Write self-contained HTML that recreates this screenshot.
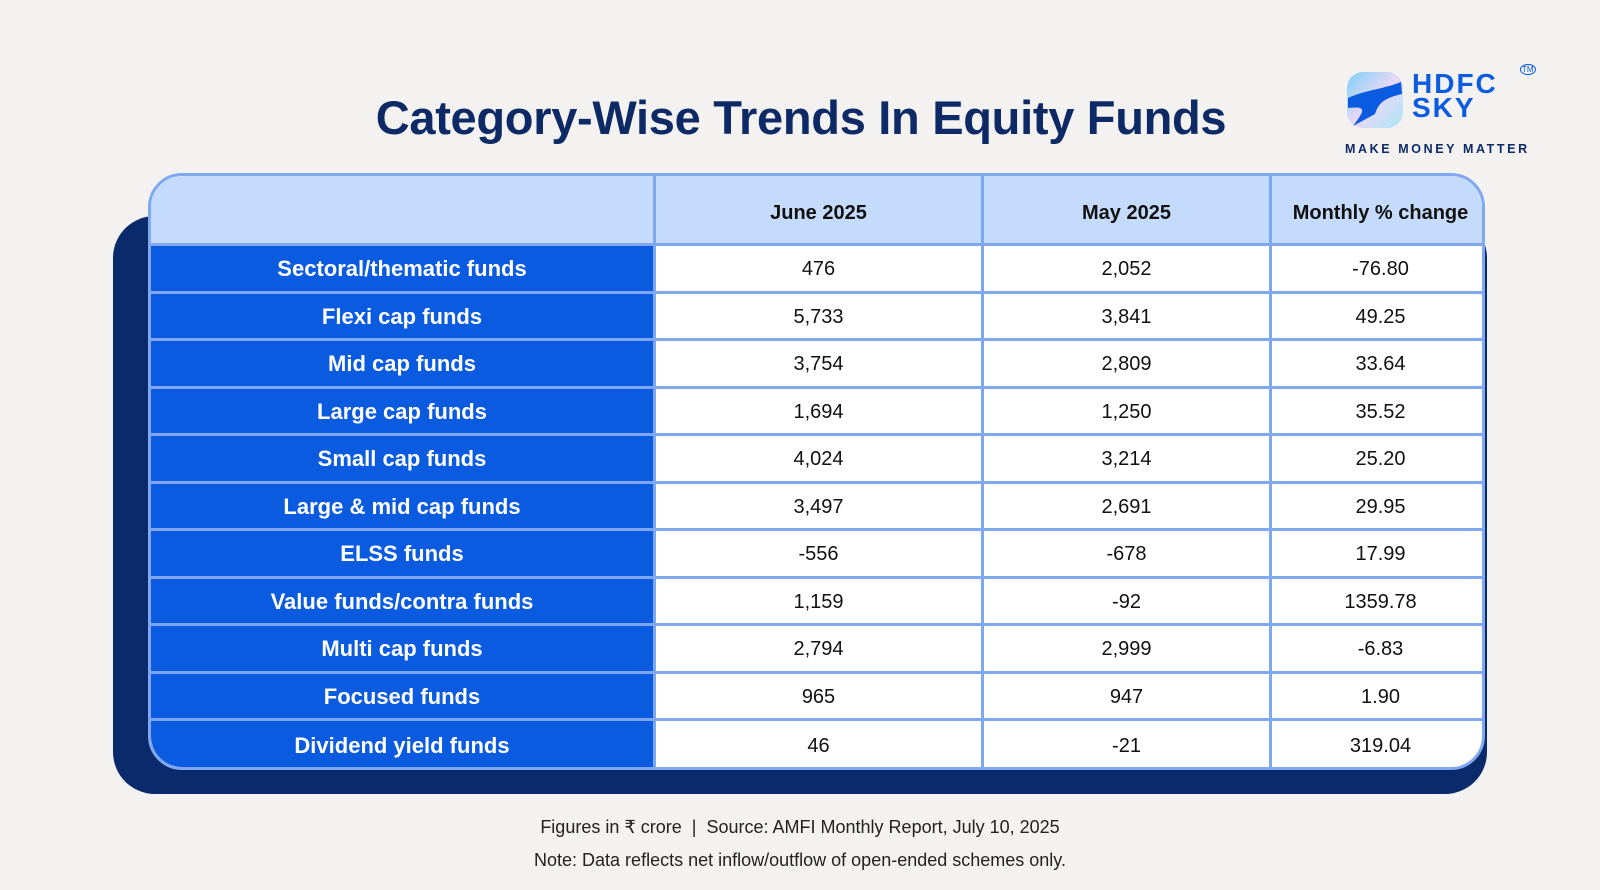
<!DOCTYPE html>
<html><head><meta charset="utf-8"><style>
body{margin:0;width:1600px;height:890px;background:#f3f2f0;font-family:"Liberation Sans",sans-serif;position:relative;overflow:hidden}
.abs{position:absolute}
#title{left:0;width:1602px;top:90px;text-align:center;font-size:47px;font-weight:bold;color:#0d2a66;letter-spacing:-0.3px}
#back{left:113px;top:216px;width:1374px;height:578px;background:#0a2a6b;border-radius:42px}
#tbl{left:148px;top:173px;width:1337px;height:597px;border:3px solid #7fa8f0;border-radius:34px;overflow:hidden;background:#fff;box-sizing:border-box}
.cell{position:absolute;display:flex;align-items:center;justify-content:center;box-sizing:border-box;font-size:20px;color:#111}
.hdr{background:#c5dbfc;font-weight:bold;color:#111;padding-top:8px}
.lab{background:#0a5be0;color:#fff;font-weight:bold;font-size:22px}
.foot{left:0;width:1600px;text-align:center;font-size:18px;color:#222}
</style></head><body>
<div id="title" class="abs">Category-Wise Trends In Equity Funds</div>
<div class="abs" style="left:1345px;top:70px;width:190px;height:90px">
 <svg width="60" height="60" style="position:absolute;left:0;top:0"><defs><linearGradient id="g" x1="0" y1="0" x2="1" y2="1"><stop offset="0" stop-color="#7ad0f5"/><stop offset="0.5" stop-color="#e9d8f7"/><stop offset="1" stop-color="#a9e6f5"/></linearGradient></defs><rect x="2" y="2" width="56" height="56" rx="16" fill="url(#g)"/><path d="M3 28 C20 20 35 20 56 12 L57 24 C40 28 34 32 30 44 L8 56 C20 40 22 36 3 38Z" fill="#0a5be0"/></svg>
 <div class="abs" style="left:67px;top:2px;font-size:28px;font-weight:bold;color:#0a5be0;line-height:24px;letter-spacing:2px">HDFC<br>SKY</div>
 <div class="abs" style="left:175px;top:-6px;font-size:8px;color:#0a5be0;border:1px solid #0a5be0;border-radius:50%;padding:0 1px">TM</div>
 <div class="abs" style="left:0;top:72px;font-size:12.5px;font-weight:bold;color:#0d2a66;letter-spacing:2.6px;white-space:nowrap">MAKE MONEY MATTER</div>
</div>
<div id="back" class="abs"></div>
<div id="tbl" class="abs"></div>
<div class="abs foot" style="top:817px">Figures in ₹ crore &nbsp;|&nbsp; Source: AMFI Monthly Report, July 10, 2025</div>
<div class="abs foot" style="top:850px">Note: Data reflects net inflow/outflow of open-ended schemes only.</div>
<script>
const headers=["","June 2025","May 2025","Monthly % change"];
const categories=["Sectoral/thematic funds","Flexi cap funds","Mid cap funds","Large cap funds","Small cap funds","Large & mid cap funds","ELSS funds","Value funds/contra funds","Multi cap funds","Focused funds","Dividend yield funds"];
const june=["476","5,733","3,754","1,694","4,024","3,497","-556","1,159","2,794","965","46"];
const may=["2,052","3,841","2,809","1,250","3,214","2,691","-678","-92","2,999","947","-21"];
const change=["-76.80","49.25","33.64","35.52","25.20","29.95","17.99","1359.78","-6.83","1.90","319.04"];
const t=document.getElementById('tbl');
const colX=[0,505,833,1121,1331];
const hdrH=70,rowH=47.5,line='#7fa8f0';
function cell(x,y,w,h,txt,cls){const d=document.createElement('div');d.className='cell '+cls;
d.style.cssText+=`left:${x}px;top:${y}px;width:${w}px;height:${h}px;border-right:3px solid ${line};border-bottom:3px solid ${line}`;
d.textContent=txt;t.appendChild(d);return d;}
headers.forEach((h,i)=>{const d=cell(colX[i],0,colX[i+1]-colX[i]+(i==3?10:0),hdrH,h,'hdr');

});
categories.forEach((c,r)=>{const y=hdrH+r*rowH;const vals=[c,june[r],may[r],change[r]];
vals.forEach((v,i)=>{const d=cell(colX[i],y,colX[i+1]-colX[i]+(i==3?10:0),rowH+(r==10?4:0),v,i==0?'lab':'');
if(i==0)d.style.paddingTop='2px';else d.style.paddingTop='3px';

});});
</script>
</body></html>
